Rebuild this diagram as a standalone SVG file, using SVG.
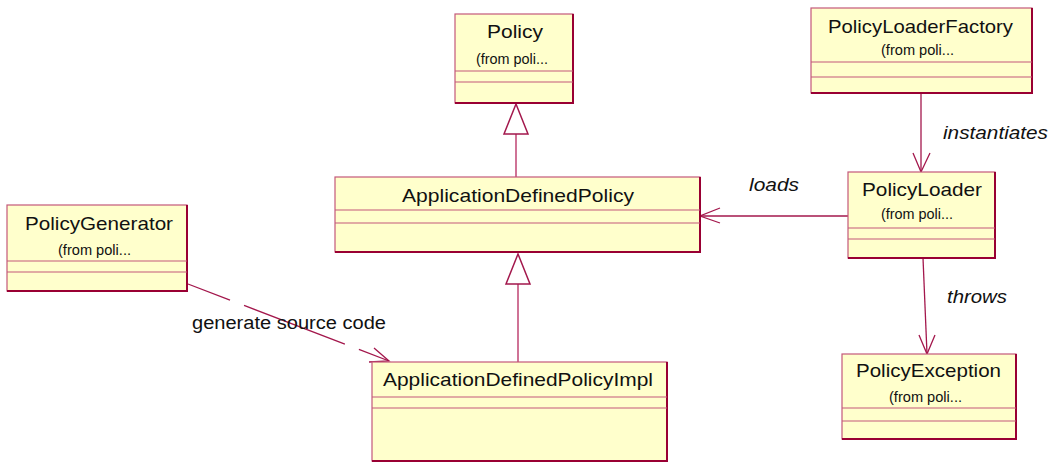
<svg xmlns="http://www.w3.org/2000/svg" width="1052" height="462" viewBox="0 0 1052 462">
<defs>
<style>
.box{fill:#FFFFCC;stroke:#C4587A;stroke-width:1.2}
.dk{fill:none;stroke:#990033;stroke-width:2}
.sep{stroke:#C4587A;stroke-width:1.2}
.nm{font-family:"Liberation Sans",Arial,sans-serif;font-size:19px;fill:#111}
.fr{font-family:"Liberation Sans",Arial,sans-serif;font-size:14px;fill:#111}
.lb{font-family:"Liberation Sans",Arial,sans-serif;font-size:18px;fill:#111}
.it{font-style:italic}
.ln{fill:none;stroke:#A3174C;stroke-width:1.3}
.gl{fill:none;stroke:#CF7396;stroke-width:2}
.tri{fill:#FFFFFF;stroke:#A3174C;stroke-width:1.5}
</style>
</defs>
<rect width="1052" height="462" fill="#FFFFFF"/>

<g id="connectors">
  <line class="gl" x1="516" y1="177" x2="516" y2="134"/>
  <polygon class="tri" points="516,104 504,134 528,134"/>
  <line class="gl" x1="518" y1="362" x2="518" y2="284"/>
  <polygon class="tri" points="518,254 506,284 530,284"/>
  <line class="ln" x1="921" y1="93" x2="921" y2="172"/>
  <polyline class="ln" points="913,153 921,172 930,153"/>
  <text class="lb it" x="943" y="139" textLength="105" lengthAdjust="spacingAndGlyphs">instantiates</text>
  <line class="ln" x1="848" y1="216" x2="700" y2="216"/>
  <polyline class="ln" points="720,208 700,216 720,223"/>
  <text class="lb it" x="749" y="191" textLength="50" lengthAdjust="spacingAndGlyphs">loads</text>
  <line class="ln" x1="923" y1="258" x2="927" y2="354"/>
  <polyline class="ln" points="919,335 927,354 935,335"/>
  <text class="lb it" x="947" y="303" textLength="60" lengthAdjust="spacingAndGlyphs">throws</text>
  <line class="ln" x1="188" y1="284" x2="389" y2="361" stroke-dasharray="108 15" stroke-dashoffset="63"/>
  <polyline class="ln" points="374,348 389,361 369,362"/>
  <text class="lb" x="192" y="329" textLength="194" lengthAdjust="spacingAndGlyphs">generate source code</text>
</g>

<g id="Policy">
  <rect class="box" x="455" y="14" width="118" height="89"/>
  <polyline class="dk" points="573,14 573,103 455,103"/>
  <line class="sep" x1="455" y1="71" x2="573" y2="71"/>
  <line class="sep" x1="455" y1="82" x2="573" y2="82"/>
  <text class="nm" x="487" y="38" textLength="56" lengthAdjust="spacingAndGlyphs">Policy</text>
  <text class="fr" x="476" y="64" textLength="72" lengthAdjust="spacingAndGlyphs">(from poli...</text>
</g>

<g id="PolicyLoaderFactory">
  <rect class="box" x="811" y="8" width="221" height="85"/>
  <polyline class="dk" points="1032,8 1032,93 811,93"/>
  <line class="sep" x1="811" y1="62" x2="1032" y2="62"/>
  <line class="sep" x1="811" y1="77" x2="1032" y2="77"/>
  <text class="nm" x="828" y="33" textLength="185" lengthAdjust="spacingAndGlyphs">PolicyLoaderFactory</text>
  <text class="fr" x="881" y="55" textLength="73" lengthAdjust="spacingAndGlyphs">(from poli...</text>
</g>

<g id="ApplicationDefinedPolicy">
  <rect class="box" x="335" y="177" width="365" height="75"/>
  <polyline class="dk" points="700,177 700,252 335,252"/>
  <line class="sep" x1="335" y1="210" x2="700" y2="210"/>
  <line class="sep" x1="335" y1="223" x2="700" y2="223"/>
  <text class="nm" x="402" y="202" textLength="232" lengthAdjust="spacingAndGlyphs">ApplicationDefinedPolicy</text>
</g>

<g id="PolicyGenerator">
  <rect class="box" x="7" y="205" width="180" height="86"/>
  <polyline class="dk" points="187,205 187,291 7,291"/>
  <line class="sep" x1="7" y1="261" x2="187" y2="261"/>
  <line class="sep" x1="7" y1="272" x2="187" y2="272"/>
  <text class="nm" x="25" y="230" textLength="148" lengthAdjust="spacingAndGlyphs">PolicyGenerator</text>
  <text class="fr" x="58" y="255" textLength="73" lengthAdjust="spacingAndGlyphs">(from poli...</text>
</g>

<g id="ApplicationDefinedPolicyImpl">
  <rect class="box" x="372" y="362" width="295" height="99"/>
  <polyline class="dk" points="667,362 667,461 372,461"/>
  <line class="sep" x1="372" y1="397" x2="667" y2="397"/>
  <line class="sep" x1="372" y1="408" x2="667" y2="408"/>
  <text class="nm" x="383" y="386" textLength="270" lengthAdjust="spacingAndGlyphs">ApplicationDefinedPolicyImpl</text>
</g>

<g id="PolicyLoader">
  <rect class="box" x="848" y="172" width="147" height="86"/>
  <polyline class="dk" points="995,172 995,258 848,258"/>
  <line class="sep" x1="848" y1="228" x2="995" y2="228"/>
  <line class="sep" x1="848" y1="239" x2="995" y2="239"/>
  <text class="nm" x="862" y="196" textLength="120" lengthAdjust="spacingAndGlyphs">PolicyLoader</text>
  <text class="fr" x="881" y="219" textLength="72" lengthAdjust="spacingAndGlyphs">(from poli...</text>
</g>

<g id="PolicyException">
  <rect class="box" x="842" y="354" width="174" height="85"/>
  <polyline class="dk" points="1016,354 1016,439 842,439"/>
  <line class="sep" x1="842" y1="408" x2="1016" y2="408"/>
  <line class="sep" x1="842" y1="421" x2="1016" y2="421"/>
  <text class="nm" x="856" y="377" textLength="145" lengthAdjust="spacingAndGlyphs">PolicyException</text>
  <text class="fr" x="889" y="402" textLength="73" lengthAdjust="spacingAndGlyphs">(from poli...</text>
</g>
</svg>
